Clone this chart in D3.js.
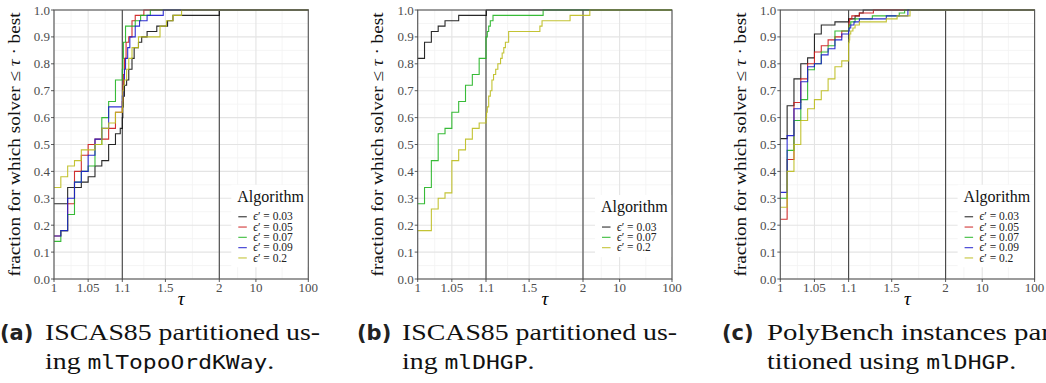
<!DOCTYPE html>
<html>
<head>
<meta charset="utf-8">
<script src="https://cdnjs.cloudflare.com/ajax/libs/d3/7.8.5/d3.min.js"></script>
<style>
  body { margin: 0; background: #fff; }
  svg { display: block; }
</style>
</head>
<body>
<div id="fig"></div>
<script>
// ticks / gridlines on the tau axis
var tauTicks = [1, 1.05, 1.1, 1.5, 2, 10, 100];
var tauTickLabels = ["1", "1.05", "1.1", "1.5", "2", "10", "100"];
var tauMinor = [1.025, 1.075, 1.3, 1.75, 4.472, 31.62];
var yTicks = [0, 0.1, 0.2, 0.3, 0.4, 0.5, 0.6, 0.7, 0.8, 0.9, 1.0];
var yMinor = [0.05, 0.15, 0.25, 0.35, 0.45, 0.55, 0.65, 0.75, 0.85, 0.95];
var refLines = [1.1, 2];

var epsNames = ["0.03", "0.05", "0.07", "0.09", "0.2"];
var epsColors = {"0.03": "#111111", "0.05": "#cc1a1a", "0.07": "#22b422", "0.09": "#1a1acc", "0.2": "#bdbd1e"};

// (a) ISCAS85, mlTopoOrdKWay  -- [tau, fraction]
var a003 = [[1,0.28],[1.02,0.34],[1.04,0.36],[1.05,0.38],[1.06,0.42],[1.07,0.44],[1.08,0.50],[1.09,0.54],[1.097,0.56],[1.1,0.60],[1.105,0.64],[1.11,0.68],[1.12,0.72],[1.14,0.74],[1.16,0.78],[1.19,0.82],[1.21,0.86],[1.25,0.88],[1.28,0.90],[1.33,0.92],[1.42,0.94],[1.52,0.96],[1.57,0.98],[2.0,1.0]];
var a005 = [[1,0.16],[1.01,0.18],[1.02,0.28],[1.03,0.40],[1.04,0.46],[1.05,0.50],[1.06,0.52],[1.08,0.56],[1.09,0.62],[1.1,0.66],[1.105,0.72],[1.11,0.76],[1.12,0.82],[1.135,0.88],[1.16,0.90],[1.19,0.96],[1.22,0.98],[1.30,1.0]];
var a007 = [[1,0.14],[1.01,0.18],[1.02,0.24],[1.03,0.36],[1.04,0.40],[1.05,0.42],[1.06,0.50],[1.07,0.60],[1.08,0.66],[1.09,0.74],[1.1,0.78],[1.105,0.82],[1.11,0.88],[1.13,0.94],[1.22,0.96],[1.27,0.98],[1.36,1.0]];
var a009 = [[1,0.16],[1.01,0.18],[1.02,0.30],[1.03,0.36],[1.04,0.40],[1.05,0.46],[1.06,0.52],[1.07,0.56],[1.08,0.64],[1.1,0.68],[1.11,0.72],[1.12,0.78],[1.13,0.82],[1.15,0.86],[1.17,0.90],[1.22,0.94],[1.26,0.96],[1.33,0.98],[1.48,1.0]];
var a02 = [[1,0.34],[1.01,0.38],[1.02,0.42],[1.03,0.44],[1.04,0.48],[1.06,0.50],[1.07,0.56],[1.08,0.58],[1.09,0.62],[1.1,0.64],[1.105,0.70],[1.11,0.72],[1.12,0.74],[1.14,0.78],[1.16,0.82],[1.19,0.86],[1.25,0.90],[1.45,0.94],[1.51,0.96],[1.57,0.98],[1.65,1.0]];

// (b) ISCAS85, mlDHGP
var b003 = [[1,0.82],[1.01,0.88],[1.02,0.92],[1.03,0.94],[1.04,0.96],[1.06,0.98],[1.104,1.0]];
var b007 = [[1,0.28],[1.01,0.34],[1.02,0.44],[1.03,0.54],[1.04,0.56],[1.05,0.62],[1.06,0.66],[1.07,0.72],[1.08,0.76],[1.09,0.82],[1.1,0.90],[1.112,0.92],[1.125,0.94],[1.14,0.96],[1.165,0.98],[1.63,1.0]];
var b02 = [[1,0.18],[1.02,0.26],[1.03,0.30],[1.04,0.32],[1.05,0.44],[1.06,0.48],[1.07,0.52],[1.08,0.56],[1.09,0.58],[1.1,0.60],[1.105,0.62],[1.112,0.64],[1.125,0.68],[1.14,0.70],[1.155,0.74],[1.17,0.76],[1.19,0.78],[1.21,0.80],[1.235,0.82],[1.25,0.84],[1.265,0.86],[1.28,0.88],[1.31,0.92],[1.6,0.94],[1.62,0.96],[1.88,0.98],[2.7,1.0]];

// (c) PolyBench, mlDHGP
var c003 = [[1,0.522],[1.01,0.644],[1.02,0.744],[1.03,0.80],[1.04,0.822],[1.05,0.911],[1.06,0.944],[1.08,0.956],[1.1,0.967],[1.16,0.978],[1.2,0.989],[1.235,1.0]];
var c005 = [[1,0.222],[1.01,0.444],[1.02,0.656],[1.03,0.744],[1.04,0.80],[1.05,0.844],[1.06,0.867],[1.07,0.889],[1.08,0.90],[1.09,0.922],[1.1,0.944],[1.105,0.956],[1.11,0.967],[1.13,0.978],[1.2,0.989],[1.33,1.0]];
var c007 = [[1,0.30],[1.01,0.478],[1.02,0.589],[1.03,0.667],[1.04,0.778],[1.05,0.80],[1.06,0.844],[1.07,0.867],[1.08,0.922],[1.1,0.933],[1.105,0.944],[1.12,0.956],[1.16,0.967],[1.32,0.978],[1.57,0.989],[1.62,1.0]];
var c009 = [[1,0.322],[1.01,0.533],[1.02,0.633],[1.03,0.733],[1.04,0.789],[1.05,0.80],[1.06,0.833],[1.07,0.856],[1.08,0.889],[1.09,0.911],[1.1,0.922],[1.105,0.933],[1.12,0.944],[1.15,0.956],[1.2,0.967],[1.45,0.978],[1.65,1.0]];
var c02 = [[1,0.267],[1.01,0.40],[1.02,0.50],[1.03,0.589],[1.04,0.633],[1.05,0.667],[1.06,0.70],[1.07,0.744],[1.08,0.789],[1.09,0.811],[1.1,0.878],[1.105,0.889],[1.11,0.911],[1.12,0.922],[1.14,0.933],[1.16,0.944],[1.2,0.956],[1.45,0.967],[1.55,0.978],[1.67,1.0]];

var panels = [
  { left: 54,    names: epsNames,                   series: [a003, a005, a007, a009, a02] },
  { left: 417.7, names: ["0.03", "0.07", "0.2"],    series: [b003, b007, b02] },
  { left: 780.3, names: epsNames,                   series: [c003, c005, c007, c009, c02] }
];

// fit = width the first line (without trailing hyphen) takes in the figure
var captions = [
  { x: 0,   tag: "(a)", line1: "ISCAS85 partitioned us",  fit: 266, pre: "ing ",            code: "mlTopoOrdKWay" },
  { x: 357, tag: "(b)", line1: "ISCAS85 partitioned us",  fit: 266, pre: "ing ",            code: "mlDHGP" },
  { x: 722, tag: "(c)", line1: "PolyBench instances par", fit: 284, pre: "titioned using ", code: "mlDHGP" }
];

var W = 1046, H = 383;
var plotTop = 10, plotBottom = 279, pw = 254.3;
var serif = "Liberation Serif";
var mono = "DejaVu Sans Mono";

var svg = d3.select("#fig").append("svg")
    .attr("width", W)
    .attr("height", H);

svg.append("rect").attr("width", W).attr("height", H).attr("fill", "#fff");

var y = d3.scaleLinear().domain([0, 1]).range([plotBottom, plotTop]);

// piecewise tau axis: linear 1..1.1, linear 1.1..2, log 2..100
function makeX(left) {
  var s1 = d3.scaleLinear().domain([1, 1.1]).range([left, left + 68.3]);
  var s2 = d3.scaleLinear().domain([1.1, 2]).range([left + 68.3, left + 165.3]);
  var s3 = d3.scaleLog().domain([2, 100]).range([left + 165.3, left + pw]);
  return function(t) { return t <= 1.1 ? s1(t) : (t <= 2 ? s2(t) : s3(t)); };
}

panels.forEach(function(p) {
  var L = p.left, R = p.left + pw;
  var x = makeX(L);
  var g = svg.append("g");

  // grid
  g.selectAll("line.ymin").data(yMinor).enter().append("line")
      .attr("x1", L).attr("x2", R)
      .attr("y1", function(d) { return y(d); }).attr("y2", function(d) { return y(d); })
      .attr("stroke", "#f2f2f2").attr("stroke-width", 0.8);
  g.selectAll("line.xmin").data(tauMinor).enter().append("line")
      .attr("x1", function(d) { return x(d); }).attr("x2", function(d) { return x(d); })
      .attr("y1", plotTop).attr("y2", plotBottom)
      .attr("stroke", "#f2f2f2").attr("stroke-width", 0.8);
  g.selectAll("line.ymaj").data(yTicks).enter().append("line")
      .attr("x1", L).attr("x2", R)
      .attr("y1", function(d) { return y(d); }).attr("y2", function(d) { return y(d); })
      .attr("stroke", "#e4e4e4").attr("stroke-width", 1.1);
  g.selectAll("line.xmaj").data(tauTicks).enter().append("line")
      .attr("x1", function(d) { return x(d); }).attr("x2", function(d) { return x(d); })
      .attr("y1", plotTop).attr("y2", plotBottom)
      .attr("stroke", "#e4e4e4").attr("stroke-width", 1.1);

  // vertical markers at 1.1 and 2
  g.selectAll("line.ref").data(refLines).enter().append("line")
      .attr("x1", function(d) { return x(d); }).attr("x2", function(d) { return x(d); })
      .attr("y1", plotTop).attr("y2", plotBottom)
      .attr("stroke", "#444").attr("stroke-width", 1.1);

  // step curves
  var line = d3.line()
      .x(function(d) { return x(d[0]); })
      .y(function(d) { return y(d[1]); })
      .curve(d3.curveStepAfter);

  p.series.forEach(function(s, i) {
    var pts = s.concat([[100, s[s.length - 1][1]]]);
    g.append("path")
        .attr("d", line(pts))
        .attr("fill", "none")
        .attr("stroke", epsColors[p.names[i]])
        .attr("stroke-opacity", 0.9)
        .attr("stroke-width", 1.1);
  });

  // legend, centred at y=226 against the right edge
  var n = p.names.length;
  var boxH = 31 + n * 10.3, boxTop = 226 - boxH / 2;
  var lg = g.append("g");
  lg.append("rect")
      .attr("x", R - 77).attr("y", boxTop)
      .attr("width", 77).attr("height", boxH)
      .attr("fill", "#fff");
  lg.append("text")
      .attr("x", R - 71).attr("y", boxTop + 17)
      .attr("font-family", serif).attr("font-size", 16)
      .attr("fill", "#111")
      .text("Algorithm");
  p.names.forEach(function(nm, i) {
    var cy = boxTop + 32 + i * 10.3;
    lg.append("line")
        .attr("x1", R - 70).attr("x2", R - 61.5)
        .attr("y1", cy).attr("y2", cy)
        .attr("stroke", epsColors[nm]).attr("stroke-opacity", 0.8).attr("stroke-width", 1.2);
    var t = lg.append("text")
        .attr("x", R - 55).attr("y", cy + 3.6)
        .attr("font-family", serif).attr("font-size", 11.5)
        .attr("fill", "#222");
    t.append("tspan").attr("font-style", "italic").text("\u03F5");
    t.append("tspan").text("\u2032 = " + nm);
  });

  // border
  g.append("rect")
      .attr("x", L).attr("y", plotTop)
      .attr("width", pw).attr("height", plotBottom - plotTop)
      .attr("fill", "none").attr("stroke", "#555").attr("stroke-width", 1.1);

  // axes: ticks + labels
  g.selectAll("line.xt").data(tauTicks).enter().append("line")
      .attr("x1", function(d) { return x(d); }).attr("x2", function(d) { return x(d); })
      .attr("y1", plotBottom).attr("y2", plotBottom + 3)
      .attr("stroke", "#333").attr("stroke-width", 0.8);
  g.selectAll("text.xt").data(tauTicks).enter().append("text")
      .attr("x", function(d) { return x(d); }).attr("y", 292)
      .attr("text-anchor", "middle")
      .attr("font-family", serif).attr("font-size", 13)
      .attr("fill", "#4d4d4d")
      .text(function(d, i) { return tauTickLabels[i]; });
  g.selectAll("line.yt").data(yTicks).enter().append("line")
      .attr("x1", L - 3).attr("x2", L)
      .attr("y1", function(d) { return y(d); }).attr("y2", function(d) { return y(d); })
      .attr("stroke", "#333").attr("stroke-width", 0.8);
  g.selectAll("text.yt").data(yTicks).enter().append("text")
      .attr("x", L - 4).attr("y", function(d) { return y(d) + 4.5; })
      .attr("text-anchor", "end")
      .attr("font-family", serif).attr("font-size", 13)
      .attr("fill", "#4d4d4d")
      .text(function(d) { return d3.format(".1f")(d); });

  // axis titles
  g.append("text")
      .attr("x", (L + R) / 2).attr("y", 305)
      .attr("text-anchor", "middle")
      .attr("font-family", serif).attr("font-size", 19).attr("font-style", "italic")
      .text("\u03C4");

  var yt = g.append("text")
      .attr("text-anchor", "middle")
      .attr("font-family", serif).attr("font-size", 16)
      .attr("fill", "#111");
  yt.append("tspan").text("fraction for which solver \u2264 ");
  yt.append("tspan").attr("font-style", "italic").text("\u03C4");
  yt.append("tspan").text(" \u00B7 best");
  var sy = 264 / yt.node().getComputedTextLength();
  yt.attr("transform", "translate(" + (L - 34.5) + "," + ((plotTop + plotBottom) / 2) + ") rotate(-90) scale(" + sy + ",1)");
});

// sub-captions: serif body stretched to the width of the typeset original
var probe = svg.append("text").attr("font-family", serif).attr("font-size", 23).text(captions[0].line1);
var sx = captions[0].fit / probe.node().getComputedTextLength();

captions.forEach(function(c) {
  svg.append("text")
      .attr("x", c.x).attr("y", 340)
      .attr("font-family", "DejaVu Sans").attr("font-weight", "bold")
      .attr("font-size", 21)
      .attr("fill", "#222")
      .text(c.tag);

  probe.text(c.line1);
  var s1 = c.fit / probe.node().getComputedTextLength();
  svg.append("text")
      .attr("transform", "translate(" + (c.x + 45) + ",340) scale(" + s1 + ",1)")
      .attr("font-family", serif).attr("font-size", 23)
      .attr("fill", "#111")
      .text(c.line1 + "-");

  var l2 = svg.append("text")
      .attr("transform", "translate(" + (c.x + 45) + ",369) scale(" + sx + ",1)")
      .attr("font-family", serif).attr("font-size", 23)
      .attr("fill", "#111");
  l2.append("tspan").text(c.pre);
  l2.append("tspan").attr("font-family", mono).attr("font-size", 19).text(c.code);
  l2.append("tspan").text(".");
});
probe.remove();
</script>
</body>
</html>
